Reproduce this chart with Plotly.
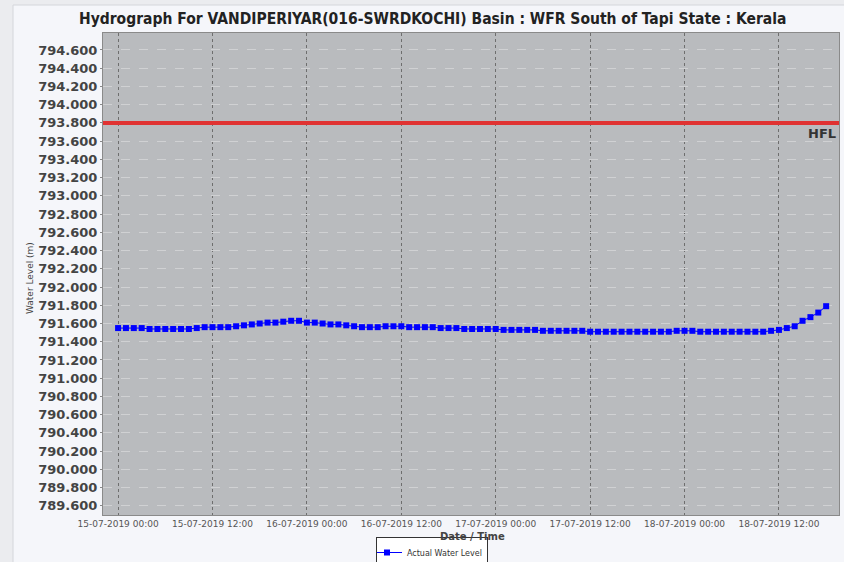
import plotly.graph_objects as go
import pandas as pd

title_text = "Hydrograph For VANDIPERIYAR(016-SWRDKOCHI) Basin : WFR South of Tapi State : Kerala"
start_time = "2019-07-15 00:00"
n_hours = 91
water_level = [
    791.55, 791.55, 791.55, 791.55,
    791.54, 791.54, 791.54, 791.54, 791.54, 791.54,
    791.55, 791.56, 791.56, 791.56, 791.56,
    791.57, 791.58, 791.59, 791.60, 791.61, 791.61, 791.62, 791.63, 791.63,
    791.61, 791.61, 791.60, 791.59, 791.59, 791.58, 791.57,
    791.56, 791.56, 791.56, 791.57, 791.57, 791.57,
    791.56, 791.56, 791.56, 791.56, 791.55, 791.55, 791.55,
    791.54, 791.54, 791.54, 791.54, 791.54,
    791.53, 791.53, 791.53, 791.53, 791.53,
    791.52, 791.52, 791.52, 791.52, 791.52, 791.52,
    791.51, 791.51, 791.51, 791.51, 791.51, 791.51, 791.51, 791.51, 791.51, 791.51, 791.51,
    791.52, 791.52, 791.52,
    791.51, 791.51, 791.51, 791.51, 791.51, 791.51, 791.51, 791.51, 791.51,
    791.52, 791.53, 791.55, 791.57, 791.63, 791.67, 791.72, 791.79,
]
times = pd.date_range(start_time, periods=n_hours, freq="h")
hfl_level = 793.8
x_range = ["2019-07-14 22:05", "2019-07-18 19:38"]
y_range = [789.5, 794.786]

W, H = 844, 562
ML, MR, MT, MB = 103, 5, 33, 47
PW, PH = W - ML - MR, H - MT - MB

def px_x(px):
    return (px - ML) / PW

def px_y(py):
    return (H - MB - py) / PH

fig = go.Figure()
fig.add_trace(go.Scatter(
    x=times, y=water_level, mode="lines+markers",
    name="Actual Water Level",
    line=dict(color="#0000ff", width=1),
    marker=dict(symbol="square", size=6, color="#0000ff"),
))

# outer panel
fig.add_shape(type="rect", xref="paper", yref="paper",
              x0=px_x(13), x1=px_x(852), y0=px_y(575), y1=px_y(5),
              line=dict(color="#d4d6da", width=1), fillcolor="#f5f6fa", layer="below")
# plot area background
fig.add_shape(type="rect", xref="paper", yref="paper", x0=0, x1=1, y0=0, y1=1,
              line=dict(width=0), fillcolor="#b9bbbe", layer="below")
# HFL line
fig.add_shape(type="line", xref="paper", yref="y", x0=0, x1=1, y0=hfl_level, y1=hfl_level,
              line=dict(color="#e03232", width=4))
fig.add_annotation(text="<b>HFL</b>", xref="paper", yref="y", x=0.999, y=hfl_level,
                   xanchor="right", yanchor="top", showarrow=False, yshift=-1,
                   font=dict(family="DejaVu Sans", size=13, color="#333333"))
# title
fig.add_annotation(text="<b>" + title_text + "</b>", xref="paper", yref="paper",
                   x=px_x(432), y=px_y(19), xanchor="center", yanchor="middle", showarrow=False,
                   font=dict(family="DejaVu Sans Condensed", size=15.5, color="#222222"))
# axis titles
fig.add_annotation(text="<b>Date / Time</b>", xref="paper", yref="paper",
                   x=px_x(472), y=px_y(536), xanchor="center", yanchor="middle", showarrow=False,
                   font=dict(family="DejaVu Sans", size=10, color="#444444"))
fig.add_annotation(text="Water Level (m)", xref="paper", yref="paper",
                   x=px_x(30), y=px_y(278), xanchor="center", yanchor="middle", showarrow=False,
                   textangle=-90,
                   font=dict(family="DejaVu Sans", size=9, color="#444444"))

fig.update_layout(
    width=W, height=H,
    margin=dict(l=ML, r=MR, t=MT, b=MB, pad=0, autoexpand=False),
    paper_bgcolor="#ebecef",
    plot_bgcolor="#b9bbbe",
    showlegend=True,
    legend=dict(x=px_x(432), y=px_y(552.5), xanchor="center", yanchor="middle",
                bgcolor="#ffffff", bordercolor="#333333", borderwidth=1,
                font=dict(family="DejaVu Sans", size=8, color="#333333"),
                itemwidth=30, tracegroupgap=0, indentation=-10),
    xaxis=dict(
        type="date", range=x_range, automargin=False,
        tick0="2019-07-15 00:00", dtick=12 * 3600 * 1000,
        tickformat="%d-%m-%Y %H:%M",
        tickfont=dict(family="DejaVu Sans", size=9, color="#555555"),
        showgrid=True, gridcolor="#6e6e6e", griddash="dot", gridwidth=1,
        ticks="",
        showline=True, linecolor="#8a8a8a", linewidth=1, mirror=True,
        zeroline=False,
    ),
    yaxis=dict(
        range=y_range, tick0=789.6, dtick=0.2, tickformat=".3f", automargin=False,
        tickfont=dict(family="DejaVu Sans", size=13, color="#444444", weight="bold"),
        showgrid=True, gridcolor="#d0d1d3", griddash="dash", gridwidth=1,
        ticks="outside", ticklen=2, tickcolor="#888888",
        showline=True, linecolor="#8a8a8a", linewidth=1, mirror=True,
        zeroline=False,
    ),
)

fig.write_html("out.html", config={"displayModeBar": False},
               post_script="document.body.style.margin='0';document.body.style.overflow='hidden';")
